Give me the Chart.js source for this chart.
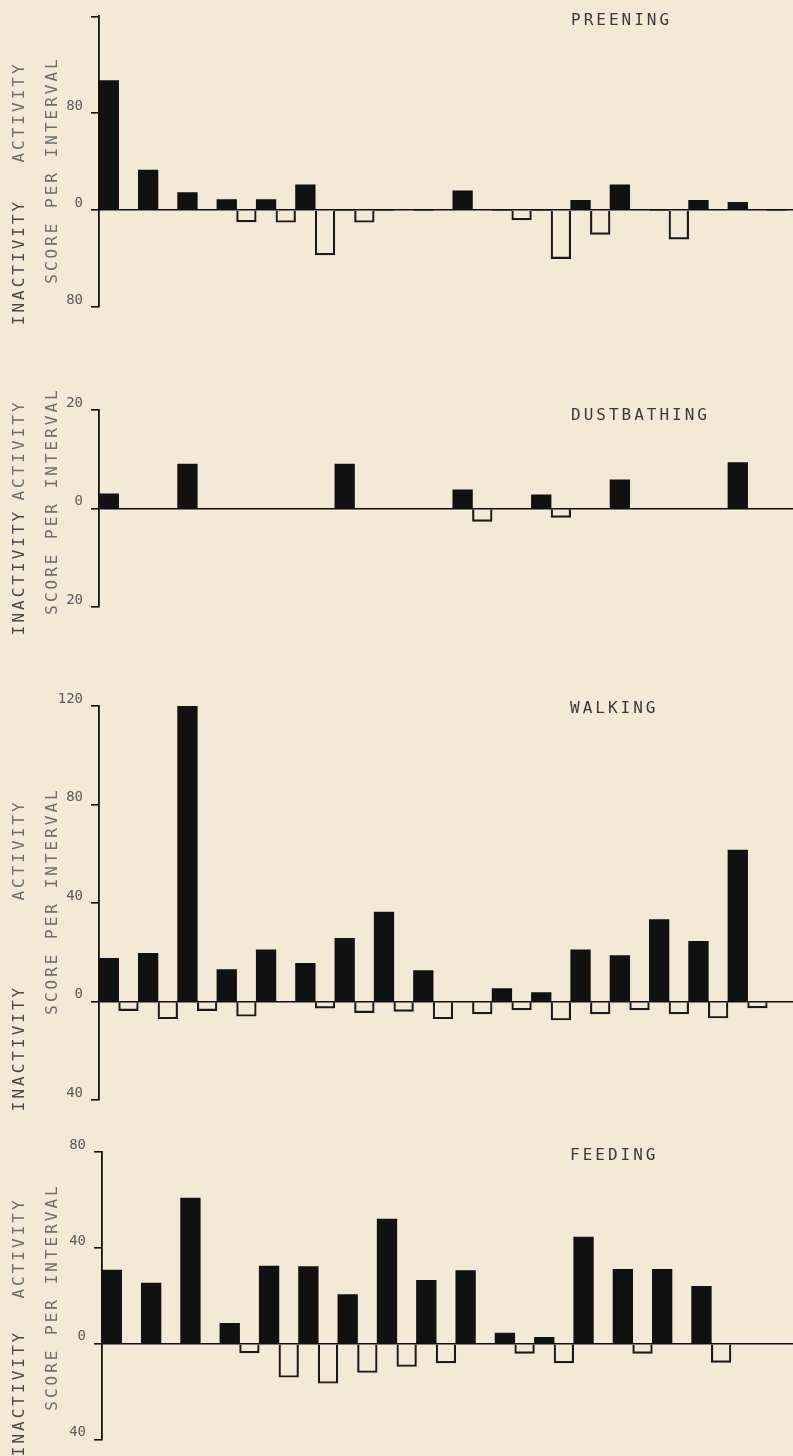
<!DOCTYPE html>
<html>
<head>
<meta charset="utf-8">
<title>Activity and inactivity scores</title>
<script src="https://cdn.jsdelivr.net/npm/chart.js@4.4.1/dist/chart.umd.min.js"></script>
<style>
  html, body { margin: 0; padding: 0; background: #f3e9d7; overflow: hidden; }
  #page { position: relative; width: 793px; height: 1456px; overflow: hidden; background: #f3e9d7; }
  .panel { position: absolute; left: 0; }
  .panel canvas { display: block; }
</style>
</head>
<body>
<div id="page">
  <div class="panel" style="top:0px"><canvas id="preening" width="812" height="330"></canvas></div>
  <div class="panel" style="top:330px"><canvas id="dustbathing" width="812" height="310"></canvas></div>
  <div class="panel" style="top:640px"><canvas id="walking" width="812" height="485"></canvas></div>
  <div class="panel" style="top:1125px"><canvas id="feeding" width="812" height="331"></canvas></div>
</div>
<script>
// Observation intervals (the last one is cut off at the right edge)
const intervals = ['1', '2', '3', '4', '5', '6', '7', '8', '9', '10', '11', '12', '13', '14', '15', '16', '17', '18'];

// Preening
const preeningActivity   = [107, 33, 14.6, 8.7, 8.7, 21, 0, 0, 0, 16, 0, 0, 8, 21, 0, 8, 6.5, 0];
const preeningInactivity = [0, 0, 0, -9.7, -10, -37, -10, 0, 0, 0, -8, -40, -20, 0, -24, 0, 0, 0];
const preeningTicks      = [-80, 0, 80, 160];
const preeningTickLabels = ['80', '0', '80', ''];

// Dustbathing
const dustActivity   = [3, 0, 9, 0, 0, 0, 9, 0, 0, 3.8, 0, 2.8, 0, 5.8, 0, 0, 9.3, 0];
const dustInactivity = [0, 0, 0, 0, 0, 0, 0, 0, 0, -2.6, 0, -1.8, 0, 0, 0, 0, 0, 0];
const dustTicks      = [-20, 0, 20];
const dustTickLabels = ['20', '0', '20'];

// Walking
const walkingActivity   = [17.5, 19.6, 120, 13, 21, 15.5, 25.7, 36.3, 12.6, 0, 5.2, 3.6, 21, 18.6, 33.3, 24.4, 61.5, 0];
const walkingInactivity = [-3.7, -7, -3.7, -6, 0, -2.7, -4.5, -4, -7, -5, -3.4, -7.5, -5, -3.4, -5, -6.7, -2.6, 0];
const walkingTicks      = [-40, 0, 40, 80, 120];
const walkingTickLabels = ['40', '0', '40', '80', '120'];

// Feeding
const feedingActivity   = [30.7, 25.3, 60.8, 8.5, 32.4, 32.2, 20.5, 52, 26.5, 30.5, 4.4, 2.7, 44.5, 31, 31, 24, 0, 0];
const feedingInactivity = [0, 0, 0, -3.8, -14, -16.5, -12, -9.5, -8, 0, -4, -8, 0, -4, 0, -7.8, 0, 0];
const feedingTicks      = [-40, 0, 40, 80];
const feedingTickLabels = ['40', '0', '40', '80'];

const INK = '#111';
const SLOT = 39.31; // width of one interval in px

// draws panel name and the rotated axis words
const panelText = {
    id: 'panelText',
    afterDraw(chart, args, opts) {
        const ctx = chart.ctx;
        ctx.save();
        ctx.font = '16px "DejaVu Sans Mono"';
        ctx.letterSpacing = '3px';
        ctx.textBaseline = 'middle';
        ctx.textAlign = 'left';
        ctx.fillStyle = '#3a3a3a';
        ctx.fillText(opts.title, opts.titleX, opts.titleY);

        const word = (text, x, y, color) => {
            ctx.save();
            ctx.translate(x, y);
            ctx.rotate(-Math.PI / 2);
            ctx.textAlign = 'center';
            ctx.fillStyle = color;
            ctx.fillText(text, 0, 0);
            ctx.restore();
        };
        word('SCORE PER INTERVAL', 53, opts.scoreY, '#6e6e6e');
        word('ACTIVITY', 20, opts.activityY, '#6e6e6e');
        word('INACTIVITY', 20, opts.inactivityY, '#4a4a4a');
        ctx.restore();
    }
};

function makePanel(id, activity, inactivity, tickValues, tickLabels, text) {
    const canvas = document.getElementById(id);
    const right = canvas.width - text.left - SLOT * intervals.length;

    new Chart(canvas, {
        type: 'bar',
        data: {
            labels: intervals,
            datasets: [
                { label: 'Activity', data: activity, backgroundColor: INK, borderWidth: 0 },
                { label: 'Inactivity', data: inactivity, backgroundColor: 'rgba(0,0,0,0)', borderColor: '#1a1a1a', borderWidth: 1.5 }
            ]
        },
        options: {
            responsive: false,
            animation: false,
            events: [],
            layout: { padding: { top: text.top, bottom: text.bottom, left: 0, right: right } },
            datasets: { bar: { categoryPercentage: 1, barPercentage: 1 } },
            plugins: {
                legend: { display: false },
                tooltip: { enabled: false },
                panelText: text
            },
            scales: {
                x: { display: false },
                y: {
                    min: tickValues[0],
                    max: tickValues[tickValues.length - 1],
                    afterFit: s => { s.width = text.left; },
                    afterBuildTicks: s => { s.ticks = tickValues.map(v => ({ value: v })); },
                    border: { display: true, color: INK, width: 1.8 },
                    grid: {
                        drawOnChartArea: true,
                        color: c => (c.tick && c.tick.value === 0) ? INK : 'rgba(0,0,0,0)',
                        tickColor: INK,
                        tickLength: 8,
                        lineWidth: 1.6
                    },
                    ticks: {
                        padding: 8,
                        labelOffset: -7,
                        color: '#5a5a5a',
                        font: { family: 'DejaVu Sans Mono', size: 14 },
                        callback: (v, i) => tickLabels[i]
                    }
                }
            }
        },
        plugins: [panelText]
    });
}

makePanel('preening', preeningActivity, preeningInactivity, preeningTicks, preeningTickLabels,
    { title: 'PREENING', titleX: 571, titleY: 21, scoreY: 170, activityY: 112, inactivityY: 262, top: 13, bottom: 23, left: 99 });
makePanel('dustbathing', dustActivity, dustInactivity, dustTicks, dustTickLabels,
    { title: 'DUSTBATHING', titleX: 571, titleY: 86, scoreY: 171, activityY: 120, inactivityY: 242, top: 80, bottom: 33, left: 99 });
makePanel('walking', walkingActivity, walkingInactivity, walkingTicks, walkingTickLabels,
    { title: 'WALKING', titleX: 570, titleY: 69, scoreY: 261, activityY: 210, inactivityY: 408, top: 66, bottom: 25, left: 99 });
makePanel('feeding', feedingActivity, feedingInactivity, feedingTicks, feedingTickLabels,
    { title: 'FEEDING', titleX: 570, titleY: 31, scoreY: 172, activityY: 123, inactivityY: 268, top: 27, bottom: 11, left: 102 });
</script>
</body>
</html>
